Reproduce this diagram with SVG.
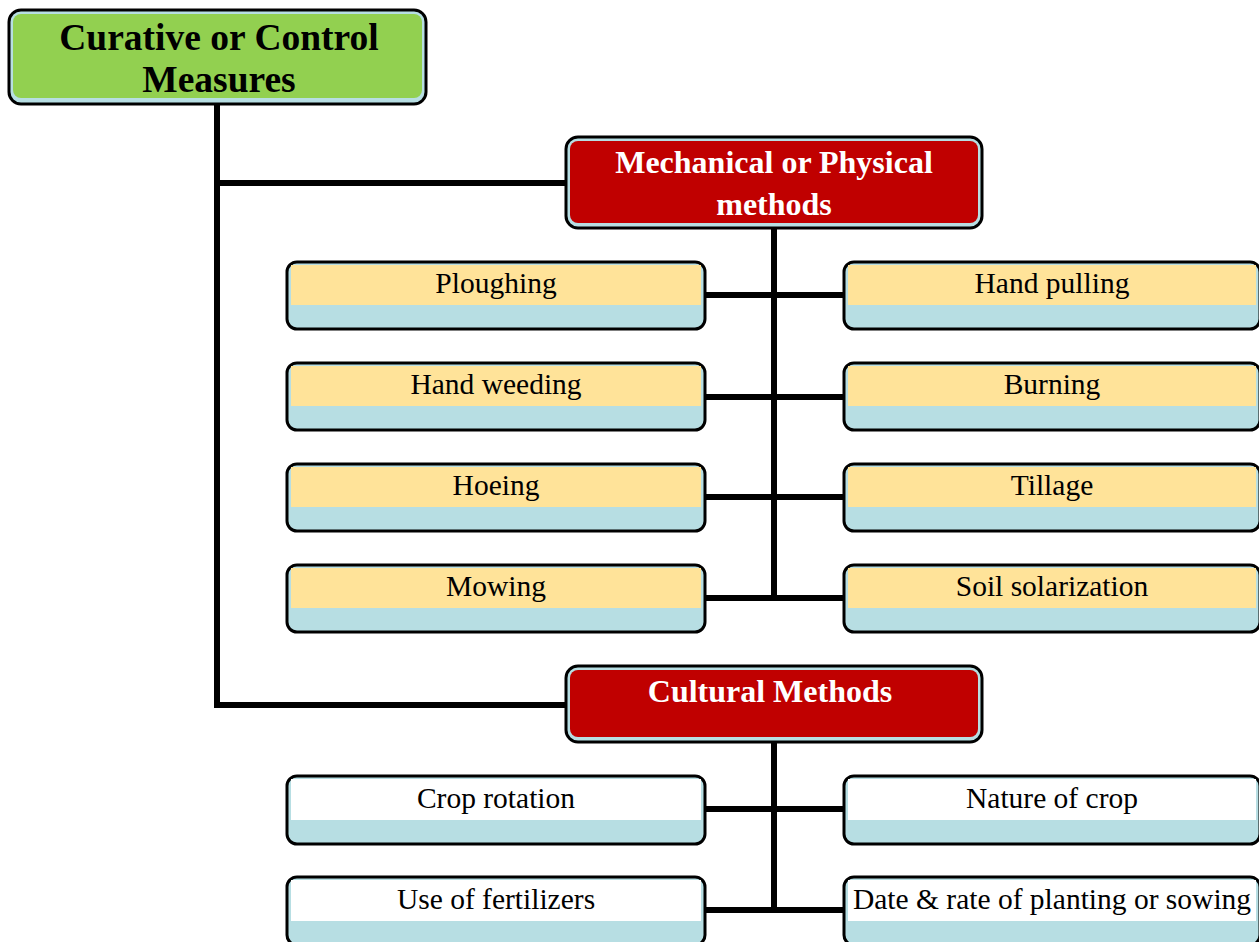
<svg xmlns="http://www.w3.org/2000/svg" width="1259" height="942" viewBox="0 0 1259 942">
<style>
.outer{fill:#B7DEE3;stroke:#000;stroke-width:3}
.yel{fill:#FFE399}
.wht{fill:#FFFFFF}
.red{fill:#C00000}
.grn{fill:#92D050}
.conn{stroke:#000;stroke-width:6;fill:none;stroke-linejoin:miter}
.leaf{font-family:"Liberation Serif",serif;font-size:29.5px;fill:#000;text-anchor:middle}
.head{font-family:"Liberation Serif",serif;font-size:32px;font-weight:bold;fill:#fff;text-anchor:middle}
.root{font-family:"Liberation Serif",serif;font-size:37.5px;font-weight:bold;fill:#000;text-anchor:middle}
</style>
<rect width="1259" height="942" fill="#fff"/>
<g id="connectors">
<path class="conn" d="M217 104V705H566M217 183H566"/>
<path class="conn" d="M774 228V598M705 295H843M705 397H843M705 497H843M705 598H843"/>
<path class="conn" d="M774 742V910M705 809H843M705 910H843"/>
</g>
<g id="root">
<rect class="outer" x="9" y="10" width="417" height="94" rx="12"/>
<rect class="grn" x="13" y="14" width="409" height="84" rx="8"/>
<text class="root" x="219" y="50">Curative or Control</text>
<text class="root" x="219" y="92">Measures</text>
</g>
<g id="mechanical">
<rect class="outer" x="566" y="137" width="416" height="91" rx="12"/>
<rect class="red" x="570" y="141" width="408" height="82" rx="8"/>
<text class="head" x="774" y="173">Mechanical or Physical</text>
<text class="head" x="774" y="215">methods</text>
</g>
<g id="ploughing">
<rect class="outer" x="287" y="262" width="418" height="67" rx="10"/>
<rect class="yel" x="291" y="265" width="410" height="40"/>
<text class="leaf" x="496" y="293">Ploughing</text>
</g>
<g id="hand-pulling">
<rect class="outer" x="844" y="262" width="416" height="67" rx="10"/>
<rect class="yel" x="848" y="265" width="408" height="40"/>
<text class="leaf" x="1052" y="293">Hand pulling</text>
</g>
<g id="hand-weeding">
<rect class="outer" x="287" y="363" width="418" height="67" rx="10"/>
<rect class="yel" x="291" y="366" width="410" height="40"/>
<text class="leaf" x="496" y="394">Hand weeding</text>
</g>
<g id="burning">
<rect class="outer" x="844" y="363" width="416" height="67" rx="10"/>
<rect class="yel" x="848" y="366" width="408" height="40"/>
<text class="leaf" x="1052" y="394">Burning</text>
</g>
<g id="hoeing">
<rect class="outer" x="287" y="464" width="418" height="67" rx="10"/>
<rect class="yel" x="291" y="467" width="410" height="40"/>
<text class="leaf" x="496" y="495">Hoeing</text>
</g>
<g id="tillage">
<rect class="outer" x="844" y="464" width="416" height="67" rx="10"/>
<rect class="yel" x="848" y="467" width="408" height="40"/>
<text class="leaf" x="1052" y="495">Tillage</text>
</g>
<g id="mowing">
<rect class="outer" x="287" y="565" width="418" height="67" rx="10"/>
<rect class="yel" x="291" y="568" width="410" height="40"/>
<text class="leaf" x="496" y="596">Mowing</text>
</g>
<g id="soil-solarization">
<rect class="outer" x="844" y="565" width="416" height="67" rx="10"/>
<rect class="yel" x="848" y="568" width="408" height="40"/>
<text class="leaf" x="1052" y="596">Soil solarization</text>
</g>
<g id="cultural">
<rect class="outer" x="566" y="666" width="416" height="76" rx="12"/>
<rect class="red" x="570" y="670" width="408" height="67" rx="8"/>
<text class="head" x="770" y="702">Cultural Methods</text>
</g>
<g id="crop-rotation">
<rect class="outer" x="287" y="776" width="418" height="68" rx="10"/>
<rect class="wht" x="291" y="779" width="410" height="41"/>
<text class="leaf" x="496" y="808">Crop rotation</text>
</g>
<g id="nature-of-crop">
<rect class="outer" x="844" y="776" width="416" height="68" rx="10"/>
<rect class="wht" x="848" y="779" width="408" height="41"/>
<text class="leaf" x="1052" y="808">Nature of crop</text>
</g>
<g id="use-of-fertilizers">
<rect class="outer" x="287" y="877" width="418" height="68" rx="10"/>
<rect class="wht" x="291" y="880" width="410" height="41"/>
<text class="leaf" x="496" y="909">Use of fertilizers</text>
</g>
<g id="date-rate">
<rect class="outer" x="844" y="877" width="416" height="68" rx="10"/>
<rect class="wht" x="848" y="880" width="408" height="41"/>
<text class="leaf" x="1052" y="909">Date &amp; rate of planting or sowing</text>
</g>
</svg>
